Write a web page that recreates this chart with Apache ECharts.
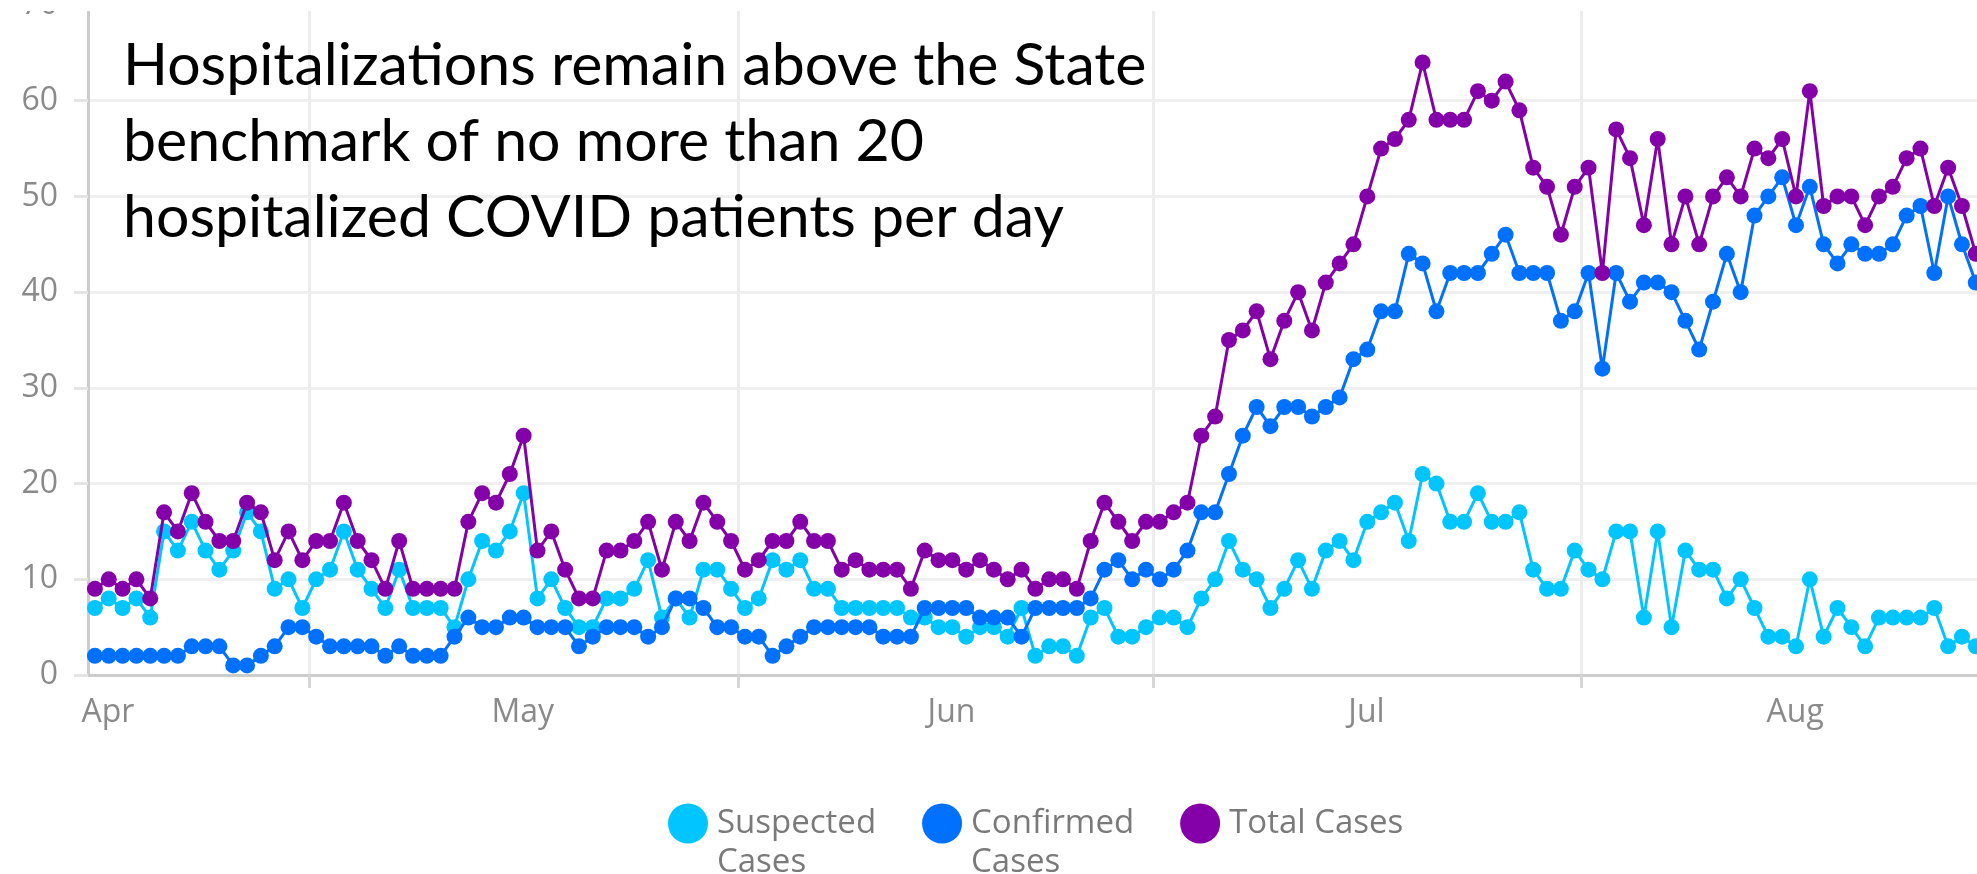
<!DOCTYPE html>
<html>
<head>
<meta charset="utf-8">
<script src="https://cdn.jsdelivr.net/npm/echarts@6/dist/echarts.min.js"></script>
<style>
html,body{margin:0;padding:0;background:#ffffff;}
#chart{width:1977px;height:874px;}
</style>
</head>
<body>
<div id="chart"></div>
<script>
// ---- data ----
const startDate = '2020-04-01';
const dayCount = 137;
const monthNames = {'04':'Apr','05':'May','06':'Jun','07':'Jul','08':'Aug'};
const gridDates = ['2020-04-17','2020-05-18','2020-06-17','2020-07-18'];
const yTicks = [0, 10, 20, 30, 40, 50, 60, 70];
const seriesNames = ['Suspected Cases', 'Confirmed Cases', 'Total Cases'];
const titleLines = [
  'Hospitalizations remain above the State',
  'benchmark of no more than 20',
  'hospitalized COVID patients per day'
];

const suspected = [
  7,8,7,8,6, 15,13,16,13,11,13,17,15, 9,10,7,10,11,15,11,9,
  7,11,7,7,7,5, 10,14,13,15, 19,8,10,7,5,5, 8,8,9,12,6,8,6,
  11,11,9,7,8,12,11, 12,9,9,7,7,7,7,7,
  6,6,5,5,4,5,5,4,7,2,3,3,2,6,
  7,4,4,5,6,6,5,8,10,14,11,
  10,7,9,12,9,13,14,12,16,17,18,14,21,20,16,16,19,16,16,17,11,9,
  9,13,11,10,15,15,6,15,5,13,11,11,8,10,7,4,4,3,10,4,7,5,3,6,6,6,6,7,3,4,3
];
const confirmed = [
  2,2,2,2,2,2,2, 3,3,3, 1,1, 2, 3, 5,5, 4, 3,3,3,3, 2, 3, 2,2,2, 4, 6, 5,5, 6,6,
  5,5,5, 3, 4, 5,5,5, 4, 5, 8,8, 7, 5,5, 4,4, 2, 3, 4, 5,5,5,5,5, 4,4,4,
  7,7,7,7, 6,6,6, 4, 7,7,7,7, 8,
  11,12,10,11,10,11,13,17,17,21,25,
  28,26,28,28,27,28,29,33,34,38,38,44,43,38,42,42,42,44,46,42,42,42,
  37,38,42,32,42,39,41,41,40,37,34,39,44,40,48,50,52,47,51,45,43,45,44,44,45,48,49,42,50,45,41
];
const total = [
  9,10,9,10,8,17,15,19,16,14,14,
  18,17,12,15,12,14,14,18,14,12,
  9,14,9,9,9,9,16,19,18,21,
  25,13,15,11,8,8,13,13,14,16,
  11,16,14,18,16,14,11,12,14,14,
  16,14,14,11,12,11,11,11,
  9,13,12,12,11,12,11,10,11,9,10,10,9,14,
  18,16,14,16,16,17,18,25,27,35,
  36,38,33,37,40,36,41,43,45,50,
  55,56,58,64,58,58,58,61,60,62,
  59,53,51,46,51,53,42,57,54,47,
  56,45,50,45,50,52,50,55,54,56,
  50,61,49,50,50,47,50,51,54,55,
  49,53,49,44
];
const colors = ['#00c5ff', '#0070ff', '#8400a8'];

// ---- categories (one per day) ----
const days = [];
(function () {
  const d0 = new Date(startDate + 'T00:00:00Z');
  for (let i = 0; i < dayCount; i++) {
    const d = new Date(d0.getTime() + i * 86400000);
    days.push(d.toISOString().slice(0, 10));
  }
})();

const gridIdx = gridDates.map(g => days.indexOf(g));
const bandW = 13.83;
const axisFont = 'Open Sans';
const labelColor = '#8a8a8a';

const chart = echarts.init(document.getElementById('chart'), null, {renderer: 'canvas'});

const seriesData = [suspected, confirmed, total];

const option = {
  animation: false,
  backgroundColor: '#ffffff',
  grid: {
    left: 88,
    top: 5,
    width: bandW * dayCount,
    height: 670,
    containLabel: false,
    outerBoundsMode: 'none'
  },
  legend: {
    left: 663,
    top: 760,
    orient: 'horizontal',
    icon: 'circle',
    itemWidth: 40,
    itemHeight: 41,
    itemGap: 46,
    selectedMode: false,
    formatter: function (name) {
      return name === 'Total Cases' ? name : '\n' + name.replace(' ', '\n');
    },
    textStyle: {
      fontFamily: axisFont,
      fontSize: 33,
      color: '#7a7a7a',
      lineHeight: 39,
      padding: [0, 0, 0, 4]
    },
    data: seriesNames.map(function (n) { return {name: n}; })
  },
  xAxis: {
    type: 'category',
    data: days,
    boundaryGap: true,
    axisLine: {show: true, lineStyle: {color: '#cccccc', width: 3}},
    axisTick: {
      show: true,
      interval: function (idx) { return gridIdx.indexOf(idx) >= 0; },
      length: 13,
      lineStyle: {color: '#d6d6d6', width: 3}
    },
    splitLine: {
      show: true,
      interval: function (idx) { return gridIdx.indexOf(idx) >= 0; },
      lineStyle: {color: '#ededed', width: 3}
    },
    axisLabel: {
      interval: function (idx, value) { return value.slice(8) === '01'; },
      formatter: function (value) { return monthNames[value.slice(5, 7)]; },
      fontFamily: axisFont,
      fontSize: 32,
      color: labelColor,
      margin: 22,
      align: 'center',
      padding: [0, 0, 0, 26]
    }
  },
  yAxis: {
    type: 'value',
    min: yTicks[0],
    max: yTicks[yTicks.length - 1],
    interval: yTicks[1] - yTicks[0],
    axisLine: {show: true, lineStyle: {color: '#cccccc', width: 3}},
    axisTick: {show: true, length: 14, lineStyle: {color: '#e4e4e4', width: 3}},
    splitLine: {show: true, lineStyle: {color: '#efefef', width: 3}},
    axisLabel: {
      fontFamily: axisFont,
      fontSize: 32,
      color: labelColor,
      margin: 30,
      formatter: function (v) { return String(v); }
    }
  },
  series: seriesNames.map(function (name, i) {
    return {
      name: name,
      type: 'line',
      data: seriesData[i],
      symbol: 'circle',
      symbolSize: 16,
      showSymbol: true,
      showAllSymbol: true,
      smooth: false,
      lineStyle: {color: colors[i], width: 3},
      itemStyle: {color: colors[i]},
      emphasis: {disabled: true},
      z: 2 + i
    };
  }),
  graphic: [
    {
      // the reference picture is cropped: its top strip is blank
      type: 'rect',
      left: 0,
      top: 0,
      z: 90,
      shape: {width: 1977, height: 11},
      style: {fill: '#ffffff'}
    }
  ].concat(titleLines.map(function (t, i) {
    return {
      type: 'text',
      left: 123,
      top: 36 + i * 76,
      z: 100,
      style: {
        text: t,
        fontFamily: 'Lato',
        fontSize: 59,
        fill: '#000000'
      }
    };
  }))
};

chart.setOption(option);
</script>
</body>
</html>
